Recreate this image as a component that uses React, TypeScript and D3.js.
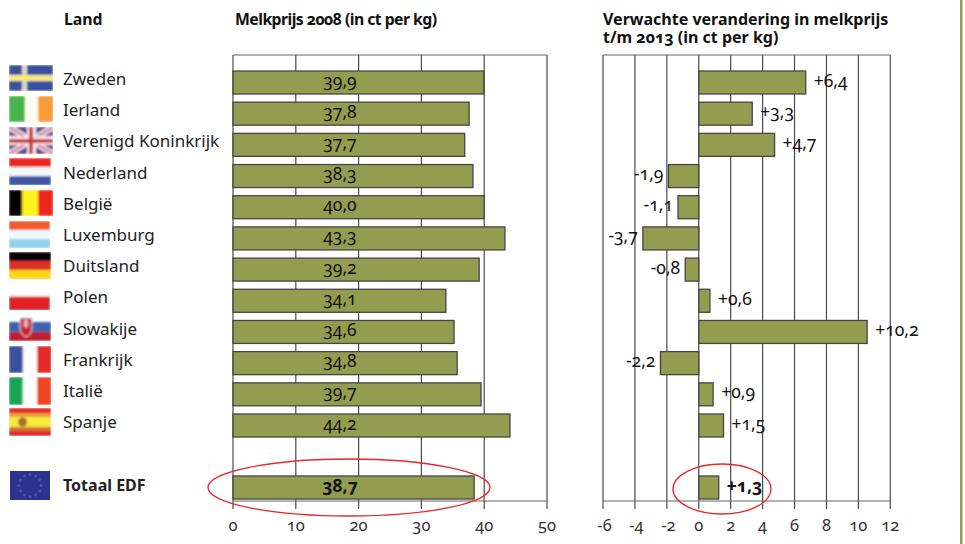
import React from "react";
import * as d3 from "d3";

const countries = ["Zweden","Ierland","Verenigd Koninkrijk","Nederland","België","Luxemburg","Duitsland","Polen","Slowakije","Frankrijk","Italië","Spanje","Totaal EDF"];
const priceLabels = ["39,9","37,8","37,7","38,3","40,0","43,3","39,2","34,1","34,6","34,8","39,7","44,2","38,7"];
const priceBars = [39.95,37.6,36.9,38.2,40.0,43.3,39.2,33.9,35.2,35.7,39.5,44.1,38.4];
const changeLabels = ["+6,4","+3,3","+4,7","-1,9","-1,1","-3,7","-0,8","+0,6","+10,2","-2,2","+0,9","+1,5","+1,3"];
const changeBars = [6.7,3.35,4.75,-1.9,-1.3,-3.5,-0.85,0.7,10.55,-2.4,0.9,1.55,1.25];
const priceTicks = [0,10,20,30,40,50];
const changeTicks = [-6,-4,-2,0,2,4,6,8,10,12];
const rowSlots = [0,1,2,3,4,5,6,7,8,9,10,11,13];

type Stripe = [string, number];
const flagDirs = ["x","v","x","h","v","h","h","h","x","v","v","x","x"];
const flagStripes: Stripe[][] = [
  [],
  [["#45b649",0.36],["#fffdf2",0.3],["#f89c3b",0.34]],
  [],
  [["#ee2524",0.33],["#f4f8fb",0.34],["#3f57a3",0.33]],
  [["#000000",0.3],["#fff21f",0.36],["#ee2524",0.34]],
  [["#f15a2b",0.33],["#f1f9fb",0.34],["#8fd0ee",0.33]],
  [["#000000",0.33],["#dc3027",0.34],["#ffd412",0.33]],
  [["#ffffff",0.5],["#de2427",0.5]],
  [],
  [["#3a519f",0.33],["#fbfcff",0.34],["#e42c26",0.33]],
  [["#16a651",0.33],["#ffffff",0.34],["#ef4423",0.33]],
  [],
  [],
];
const flagBoxes = [
  [9,65,44,26],[9,96,44,26],[9,127,44,27],[9,158,42,27],[9,190,44,26],[9,221,41,27],[9,252,42,27],
  [9,283,41,27],[9,322,42,19],[9,346,42,27],[9,377,42,28],[9,408,42,28],[10,471,40,29],
];

const FONT = "'Noto Sans', 'Open Sans', sans-serif";
const ONUM = { fontFeatureSettings: "'onum'" };
const x1 = d3.scaleLinear().domain([0,50]).range([233,547]);
const x2 = d3.scaleLinear().domain([-6,12]).range([603,890.3]);
const rowY = d3.scaleLinear().domain([0,11]).range([71,414]);
const BAR_H = 23;
const TOP = 55, AXIS = 501, TICK_END = 509;

function Flag({ i }: { i: number }) {
  const [x, y, w, h] = flagBoxes[i];
  const name = countries[i];
  const dir = flagDirs[i];
  let content: React.ReactNode = null;
  if (dir !== "x") {
    let acc = 0;
    content = flagStripes[i].map(([c, f], k) => {
      const start = acc; acc += f;
      return dir === "h"
        ? <rect key={k} x={x} y={y + start*h} width={w} height={f*h + 0.4} fill={c} />
        : <rect key={k} x={x + start*w} y={y} width={f*w + 0.4} height={h} fill={c} />;
    });
  } else if (name === "Zweden") {
    content = <g>
      <rect x={x} y={y} width={w} height={h} fill="#3a4f9f" />
      <rect x={x} y={y+10} width={w} height={6} fill="#f6e98a" />
      <rect x={x+13} y={y} width={5} height={h} fill="#d9d9c9" />
      <rect x={x+13} y={y+10} width={5} height={6} fill="#f7ec5c" />
    </g>;
  } else if (name === "Verenigd Koninkrijk") {
    content = <g>
      <rect x={x} y={y} width={w} height={h} fill="#5a4a8e" />
      <path d={`M${x},${y}L${x+w},${y+h}M${x+w},${y}L${x},${y+h}`} stroke="#f6e4ea" strokeWidth={6} />
      <path d={`M${x},${y}L${x+w},${y+h}M${x+w},${y}L${x},${y+h}`} stroke="#c05a70" strokeWidth={2} />
      <rect x={x} y={y+9} width={w} height={9} fill="#f6e4ea" />
      <rect x={x+18} y={y} width={9} height={h} fill="#f6e4ea" />
      <rect x={x} y={y+12} width={w} height={4} fill="#c8374a" />
      <rect x={x+20} y={y} width={4} height={h} fill="#c8374a" />
    </g>;
  } else if (name === "Slowakije") {
    content = <g>
      <rect x={x} y={y} width={w} height={h} fill="#c01f33" />
      <rect x={x} y={y} width={w} height={10} fill="#3b62ae" />
      <path d={`M${x+11},${y-4}h12v10q0,6 -6,9q-6,-3 -6,-9z`} fill="#c8202f" stroke="#dfe6f2" strokeWidth={1} />
      <path d={`M${x+17},${y-3}v9M${x+14},${y}h6M${x+14},${y+3}h6`} stroke="#fff" strokeWidth={1.2} />
    </g>;
  } else if (name === "Spanje") {
    content = <g>
      <rect x={x} y={y} width={w} height={h} fill="#e12a25" />
      <rect x={x} y={y+5} width={w} height={4} fill="#ef9a3c" />
      <rect x={x} y={y+9} width={w} height={10} fill="#f6ec3a" />
      <rect x={x} y={y+19} width={w} height={4} fill="#d9703a" />
      <ellipse cx={x+13.5} cy={y+14} rx={4.5} ry={4.5} fill="#a1702a" />
    </g>;
  } else if (name === "Totaal EDF") {
    const stars = d3.range(12).map(k => {
      const a = (k/12)*2*Math.PI;
      return <circle key={k} cx={x+w/2+Math.cos(a)*11} cy={y+h/2+Math.sin(a)*11} r={1.5} fill="#4b58aa" />;
    });
    content = <g><rect x={x} y={y} width={w} height={h} fill="#2b3390" />{stars}</g>;
  }
  const hardEdge = name === "Totaal EDF";
  return <g clipPath={hardEdge ? undefined : `url(#flag${i})`}>
    <clipPath id={`flag${i}`}><rect x={x} y={name === "Slowakije" ? y - 5 : y} width={w} height={name === "Slowakije" ? h + 5 : h} /></clipPath>
    <g filter={hardEdge ? undefined : "url(#soft)"}>{content}</g>
  </g>;
}

function Panel({ scale, ticks, bars }: { scale: d3.ScaleLinear<number,number>; ticks: number[]; bars: number[] }) {
  const [a, b] = scale.range();
  return <g>
    {ticks.map(t => <line key={t} x1={scale(t)} x2={scale(t)} y1={TOP} y2={TICK_END} stroke="#4a4a4a" strokeWidth={1.2} />)}
    <line x1={a} x2={b} y1={TOP} y2={TOP} stroke="#666" strokeWidth={1.2} />
    <line x1={a} x2={b} y1={AXIS} y2={AXIS} stroke="#666" strokeWidth={1.2} />
    {bars.map((v, i) => {
      const y = i === 12 ? 476 : rowY(rowSlots[i]);
      const x0 = Math.min(scale(0), scale(v));
      const x1v = Math.max(scale(0), scale(v));
      return <rect key={i} x={x0} y={y} width={x1v-x0} height={BAR_H} fill="#939d4f" stroke="#454545" strokeWidth={1.3} />;
    })}
    {ticks.map(t => <text key={t} x={scale(t) + (t < 0 ? 1.5 : 0)} y={531} textAnchor="middle" fontSize={16.5} fill="#333" style={ONUM}>{t}</text>)}
  </g>;
}

export default function App() {
  const rowText = (i: number) => (i === 12 ? 476 : rowY(rowSlots[i])) + BAR_H/2 + 4;
  const nameY = [85,116,147,179,210,241,272,303,335,366,397,428,491];
  return <svg width={965} height={544} style={{ position: "absolute", left: 0, top: 0, background: "#fff" }} fontFamily={FONT}>
    <defs><filter id="soft" x="-5%" y="-5%" width="110%" height="110%"><feGaussianBlur stdDeviation={1} /></filter></defs>
    <text x={64} y={25} fontWeight={700} fontSize={15.8} fill="#111">Land</text>
    <text x={235} y={25} fontWeight={700} fontSize={15.8} textLength={202} lengthAdjust="spacing" fill="#111" style={ONUM}>Melkprijs 2008 (in ct per kg)</text>
    <text x={603} y={24.5} fontWeight={700} fontSize={16} fill="#111">Verwachte verandering in melkprijs</text>
    <text x={603} y={43} fontWeight={700} fontSize={16} fill="#111" style={ONUM}>t/m 2013 (in ct per kg)</text>
    <Panel scale={x1} ticks={priceTicks} bars={priceBars} />
    <Panel scale={x2} ticks={changeTicks} bars={changeBars} />
    {countries.map((c, i) => <g key={c}>
      <Flag i={i} />
      <text x={63} y={nameY[i]} fontSize={i === 12 ? 16 : 17} fontWeight={i === 12 ? 700 : 400} fill="#222">{c}</text>
      <text x={340} y={rowText(i)} textAnchor="middle" fontSize={17.5} fontWeight={i === 12 ? 700 : 400} fill="#111" style={ONUM}>{priceLabels[i]}</text>
      <text x={changeBars[i] < 0 ? x2(changeBars[i]) - 5 : x2(changeBars[i]) + 8} y={rowText(i)} textAnchor={changeBars[i] < 0 ? "end" : "start"} fontSize={17.5} fontWeight={i === 12 ? 700 : 400} fill="#111" style={ONUM}>{changeLabels[i]}</text>
    </g>)}
    <ellipse cx={349} cy={487.5} rx={141} ry={28.5} fill="none" stroke="#e8262c" strokeWidth={1.3} />
    <ellipse cx={722} cy={489} rx={49} ry={25} fill="none" stroke="#e8262c" strokeWidth={1.3} />
    <rect x={960} y={0} width={2.5} height={544} fill="#939d4f" />
  </svg>;
}
